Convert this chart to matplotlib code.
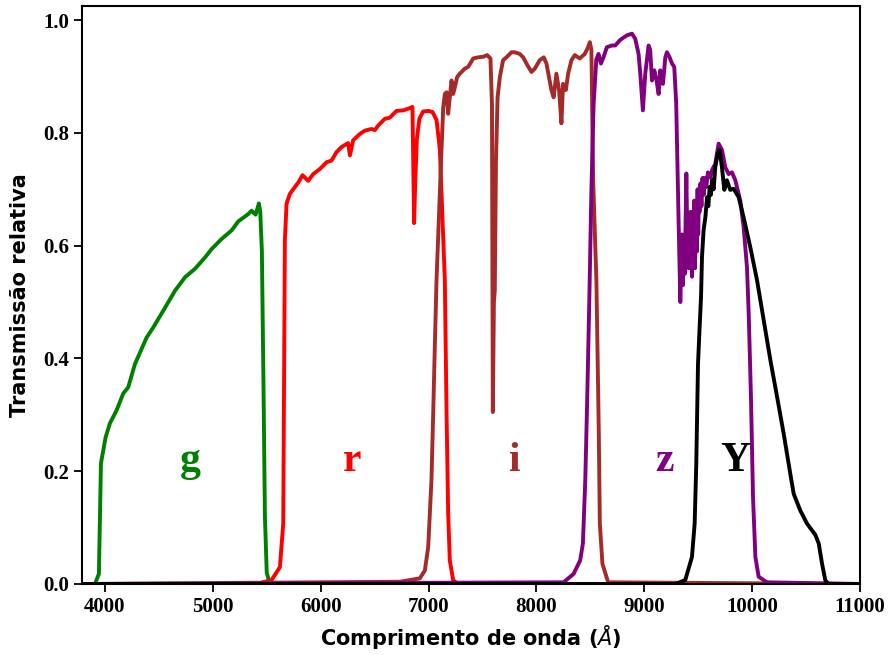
import matplotlib
matplotlib.use('Agg')
from matplotlib import pyplot as plt

# curvas de transmissão dos filtros
g_wl = [3800, 3907, 3944, 3963, 4006, 4046, 4108, 4170, 4216, 4278, 4386, 4448, 4557, 4649,
        4742, 4835, 4927, 4989, 5082, 5174, 5236, 5328, 5359, 5397, 5427, 5440, 5455, 5470,
        5483, 5500, 5530, 11000]
g_tr = [0, 0, 0.018, 0.214, 0.26, 0.285, 0.308, 0.338, 0.349, 0.39, 0.437, 0.455, 0.49, 0.52,
        0.544, 0.559, 0.579, 0.594, 0.612, 0.627, 0.643, 0.656, 0.662, 0.655, 0.675, 0.66, 0.59,
        0.35, 0.12, 0.02, 0, 0]

r_wl = [3800, 5400, 5545, 5622, 5653, 5668, 5684, 5715, 5761, 5792, 5832, 5884, 5931, 5993,
        6055, 6101, 6147, 6194, 6255, 6271, 6301, 6363, 6410, 6471, 6502, 6533, 6595, 6641,
        6703, 6765, 6811, 6851, 6866, 6878, 6892, 6915, 6950, 7000, 7037, 7074, 7105, 7151,
        7167, 7182, 7197, 7228, 7270, 11000]
r_tr = [0, 0, 0.007, 0.03, 0.107, 0.61, 0.675, 0.692, 0.704, 0.712, 0.725, 0.715, 0.727, 0.736,
        0.748, 0.751, 0.766, 0.775, 0.782, 0.76, 0.787, 0.798, 0.804, 0.807, 0.805, 0.813, 0.825,
        0.827, 0.839, 0.84, 0.843, 0.846, 0.64, 0.72, 0.79, 0.825, 0.838, 0.839, 0.837, 0.823,
        0.77, 0.539, 0.302, 0.125, 0.042, 0.007, 0, 0]

i_wl = [3800, 6734, 6919, 6966, 6997, 7027, 7043, 7058, 7074, 7120, 7136, 7151, 7167, 7182,
        7197, 7213, 7228, 7244, 7265, 7290, 7336, 7367, 7414, 7460, 7506, 7543, 7574, 7588,
        7596, 7606, 7614, 7625, 7640, 7661, 7691, 7722, 7769, 7800, 7846, 7877, 7908, 7954,
        7985, 8031, 8068, 8093, 8139, 8160, 8185, 8210, 8232, 8247, 8273, 8294, 8325, 8356,
        8402, 8448, 8479, 8495, 8510, 8526, 8556, 8578, 8588, 8612, 8665, 11000]
i_tr = [0, 0.004, 0.01, 0.024, 0.066, 0.184, 0.302, 0.42, 0.539, 0.77, 0.845, 0.869, 0.872, 0.834,
        0.863, 0.893, 0.869, 0.881, 0.899, 0.905, 0.914, 0.917, 0.932, 0.934, 0.935, 0.938, 0.932,
        0.85, 0.305, 0.50, 0.52, 0.75, 0.863, 0.899, 0.929, 0.934, 0.943, 0.943, 0.94, 0.934,
        0.923, 0.908, 0.914, 0.929, 0.934, 0.923, 0.876, 0.863, 0.905, 0.876, 0.817, 0.887,
        0.876, 0.905, 0.929, 0.938, 0.932, 0.94, 0.952, 0.961, 0.947, 0.716, 0.539, 0.273,
        0.107, 0.036, 0.003, 0]

z_wl = [3800, 8252, 8345, 8406, 8431, 8453, 8470, 8490, 8510, 8530, 8555, 8576, 8598, 8622,
        8653, 8700, 8731, 8777, 8839, 8886, 8916, 8947, 8963, 8987, 9009, 9040, 9055, 9071,
        9093, 9111, 9133, 9148, 9173, 9195, 9210, 9235, 9257, 9278, 9296, 9318, 9334, 9342,
        9350, 9358, 9365, 9375, 9390, 9400, 9406, 9411, 9418, 9426, 9434, 9442, 9450, 9457,
        9464, 9470, 9478, 9488, 9494, 9500, 9506, 9512, 9520, 9530, 9540, 9550, 9560, 9575,
        9590, 9612, 9630, 9658, 9689, 9720, 9751, 9782, 9813, 9844, 9890, 9921, 9952, 9968,
        9989, 10008, 10030, 10060, 10137, 11000]
z_tr = [0, 0.003, 0.018, 0.042, 0.072, 0.184, 0.32, 0.50, 0.70, 0.85, 0.93, 0.94, 0.923, 0.934,
        0.952, 0.955, 0.955, 0.965, 0.973, 0.976, 0.967, 0.94, 0.905, 0.84, 0.905, 0.955, 0.947,
        0.893, 0.911, 0.896, 0.869, 0.911, 0.887, 0.934, 0.943, 0.934, 0.923, 0.917, 0.852,
        0.645, 0.50, 0.56, 0.62, 0.53, 0.58, 0.55, 0.728, 0.60, 0.66, 0.56, 0.64, 0.58, 0.66,
        0.545, 0.63, 0.58, 0.68, 0.56, 0.66, 0.59, 0.70, 0.62, 0.69, 0.66, 0.71, 0.67, 0.72,
        0.69, 0.72, 0.704, 0.73, 0.721, 0.735, 0.745, 0.781, 0.77, 0.739, 0.727, 0.73, 0.716,
        0.68, 0.633, 0.562, 0.48, 0.332, 0.154, 0.048, 0.013, 0.003, 0]

Y_wl = [3800, 9288, 9380, 9442, 9467, 9482, 9498, 9513, 9526, 9535, 9550, 9566, 9582, 9594,
        9606, 9617, 9628, 9643, 9658, 9680, 9698, 9720, 9742, 9766, 9797, 9828, 9875, 9921,
        9983, 10045, 10107, 10169, 10231, 10292, 10354, 10385, 10447, 10509, 10586, 10617,
        10648, 10679, 10710, 11000]
Y_tr = [0, 0, 0.007, 0.048, 0.107, 0.213, 0.39, 0.455, 0.509, 0.58, 0.628, 0.65, 0.686, 0.67,
        0.704, 0.69, 0.716, 0.70, 0.739, 0.763, 0.77, 0.739, 0.699, 0.716, 0.699, 0.701, 0.686,
        0.65, 0.597, 0.539, 0.468, 0.397, 0.332, 0.267, 0.195, 0.16, 0.13, 0.107, 0.087, 0.072,
        0.036, 0.006, 0, 0]

filtros = ['g', 'r', 'i', 'z', 'Y']
cores = ['green', 'red', 'brown', 'purple', 'black']
curvas = [(g_wl, g_tr), (r_wl, r_tr), (i_wl, i_tr), (z_wl, z_tr), (Y_wl, Y_tr)]
# posição dos rótulos (comprimento de onda, transmissão)
rot_x = [4790, 6290, 7795, 9190, 9845]
rot_y = [0.218, 0.218, 0.218, 0.218, 0.218]

fig = plt.figure(figsize=(8.89, 6.55), dpi=100)
ax = fig.add_axes([0.0922, 0.1084, 0.8752, 0.8824])

for (wl, tr), cor in zip(curvas, cores):
    ax.plot(wl, tr, color=cor, lw=2.8)

for nome, cor, x, y in zip(filtros, cores, rot_x, rot_y):
    ax.text(x, y, nome, color=cor, fontsize=30, fontweight='bold',
            family='Liberation Serif', ha='center', va='center')

ax.set_xlim(3787, 11000)
ax.set_ylim(0, 1.025)
ax.set_xticks(range(4000, 11001, 1000))
ax.set_yticks([0.0, 0.2, 0.4, 0.6, 0.8, 1.0])
ax.set_yticklabels(['0.0', '0.2', '0.4', '0.6', '0.8', '1.0'])

for lab in ax.get_xticklabels() + ax.get_yticklabels():
    lab.set_family('Liberation Serif')
    lab.set_fontweight('bold')
    lab.set_fontsize(15)
ax.tick_params(direction='out', length=6, width=1.3)
for sp in ax.spines.values():
    sp.set_linewidth(1.5)

ax.set_xlabel(r'Comprimento de onda ($\AA$)', fontsize=15, fontweight='bold')
ax.set_ylabel('Transmissão relativa', fontsize=15, fontweight='bold', labelpad=9)

fig.savefig('out.png')
